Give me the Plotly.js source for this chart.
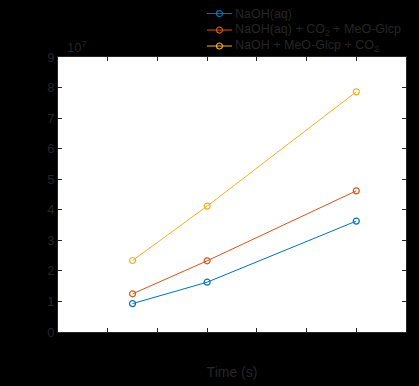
<!DOCTYPE html>
<html>
<head>
<meta charset="utf-8">
<script src="https://cdn.plot.ly/plotly-3.0.1.min.js"></script>
<style>html,body{margin:0;padding:0;background:#000;}#chart{width:419px;height:386px;}</style>
</head>
<body>
<div id="chart"></div>
<script>
const time = [15, 30, 60];
const naohAq = [0.93e7, 1.63e7, 3.63e7];
const naohCo2MeO = [1.25e7, 2.33e7, 4.62e7];
const naohMeOCo2 = [2.34e7, 4.12e7, 7.86e7];
const seriesNames = ['NaOH(aq)', 'NaOH(aq) + CO<sub>2</sub> + MeO-Glcp', 'NaOH + MeO-Glcp + CO<sub>2</sub>'];
const yTickVals = [0, 1e7, 2e7, 3e7, 4e7, 5e7, 6e7, 7e7, 8e7, 9e7];
const yTickText = ['0', '1', '2', '3', '4', '5', '6', '7', '8', '9'];
const xTickVals = [0, 10, 20, 30, 40, 50, 60, 70];

const colors = ['#0072BD', '#D95319', '#EDB120'];
const ys = [naohAq, naohCo2MeO, naohMeOCo2];
const traces = ys.map((y, i) => ({
  x: time, y: y, name: seriesNames[i], type: 'scatter', mode: 'lines+markers',
  line: {color: colors[i], width: 1},
  marker: {symbol: 'circle-open', size: 6, color: colors[i], line: {width: 1.2, color: colors[i]}},
  showlegend: false
}));

const axisColor = '#262626';

// legend drawn in paper space (plot area: 58..406 px wide, 57..332 px tall)
const legendRows = [1.158, 1.098, 1.040];
const shapes = [];
const annotations = [];
legendRows.forEach((ly, i) => {
  shapes.push({type: 'line', xref: 'paper', yref: 'paper', x0: 0.428, x1: 0.5, y0: ly, y1: ly,
               line: {color: colors[i], width: 1}});
  shapes.push({type: 'circle', xref: 'paper', yref: 'paper', x0: 0.464 - 0.0086, x1: 0.464 + 0.0086,
               y0: ly - 0.0109, y1: ly + 0.0109, line: {color: colors[i], width: 1.2}});
  annotations.push({text: seriesNames[i], xref: 'paper', yref: 'paper', x: 0.504, y: ly, xanchor: 'left', yanchor: 'middle',
                    showarrow: false, font: {size: 12.5, color: axisColor}});
});
annotations.push({text: '10<sup>7</sup>', xref: 'paper', yref: 'paper', x: 0.02, y: 1.0, xanchor: 'left', yanchor: 'bottom',
                  showarrow: false, font: {size: 13, color: axisColor}});

const layout = {
  width: 419, height: 386,
  paper_bgcolor: '#000', plot_bgcolor: '#fff',
  margin: {l: 58, r: 13, t: 57, b: 54},
  font: {family: 'Liberation Sans, Arial, sans-serif', color: axisColor, size: 13},
  showlegend: false,
  xaxis: {range: [0, 70], tickvals: xTickVals, showticklabels: false, ticks: 'inside', ticklen: 4,
          tickcolor: axisColor, showline: true, linecolor: axisColor, mirror: 'ticks', showgrid: false, zeroline: false,
          title: {text: 'Time (s)', font: {size: 14, color: axisColor}, standoff: 35}},
  yaxis: {range: [0, 9e7], tickvals: yTickVals, ticktext: yTickText, ticks: 'inside', ticklen: 4,
          tickcolor: axisColor, showline: true, linecolor: axisColor, mirror: 'ticks', showgrid: false, zeroline: false,
          tickfont: {size: 13, color: axisColor}},
  shapes: shapes,
  annotations: annotations
};
Plotly.newPlot('chart', traces, layout, {displayModeBar: false, staticPlot: true});
</script>
</body>
</html>
